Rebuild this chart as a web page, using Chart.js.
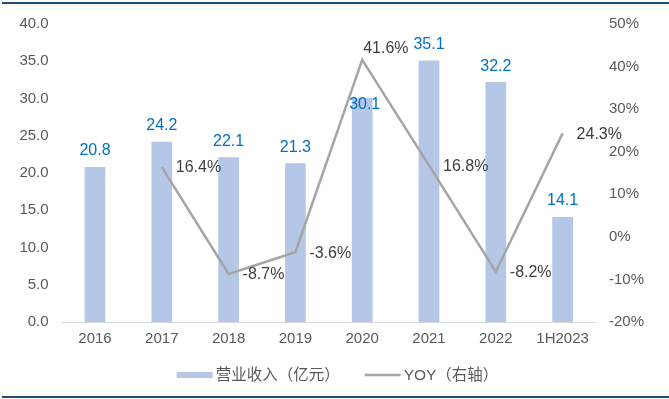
<!DOCTYPE html>
<html><head><meta charset="utf-8">
<script src="https://cdn.jsdelivr.net/npm/chart.js@4"></script>
<style>
html,body{margin:0;padding:0;background:#fff;}
#wrap{position:relative;width:669px;height:399px;overflow:hidden;}
canvas{position:absolute;left:0;top:0;}
.rule{position:absolute;left:2px;right:0;height:2px;background:#1F4E79;}
</style></head><body>
<div id="wrap"><canvas id="c" width="669" height="399"></canvas>
<div class="rule" style="top:2px"></div><div class="rule" style="top:396px"></div></div>
<script>
const categories = ['2016','2017','2018','2019','2020','2021','2022','1H2023'];
const revenue = [20.8, 24.2, 22.1, 21.3, 30.1, 35.1, 32.2, 14.1];
const yoy = [null, 16.4, -8.7, -3.6, 41.6, 16.8, -8.2, 24.3];
const leftTickLabels = ['0.0','5.0','10.0','15.0','20.0','25.0','30.0','35.0','40.0'];
const rightTickLabels = ['-20%','-10%','0%','10%','20%','30%','40%','50%'];
const seriesNames = ['营业收入（亿元）', 'YOY（右轴）'];

// label placement tweaks (style, not data)
const barLabelShift = {4: {dx: 2.5, dy: 23}};
const yoyLabelShift = {4: {dx: 1, dy: -11}};

const FONT = '"Liberation Sans", Arial, "Noto Sans CJK SC", sans-serif';

const labelPlugin = {
  id: 'vals',
  afterDatasetsDraw(chart) {
    const ctx = chart.ctx;
    ctx.save();
    ctx.font = '16px ' + FONT;
    ctx.textBaseline = 'middle';
    chart.getDatasetMeta(0).data.forEach((el, i) => {
      const s = barLabelShift[i] || {dx: 0, dy: 0};
      ctx.fillStyle = '#0070C0';
      ctx.textAlign = 'center';
      ctx.fillText(revenue[i].toFixed(1), el.x + s.dx, el.y - 16 + s.dy);
    });
    chart.getDatasetMeta(1).data.forEach((el, i) => {
      if (yoy[i] == null) return;
      const s = yoyLabelShift[i] || {dx: 14, dy: 1};
      ctx.fillStyle = '#404040';
      ctx.textAlign = 'left';
      ctx.fillText(yoy[i].toFixed(1) + '%', el.x + s.dx, el.y + s.dy);
    });
    ctx.restore();
  }
};

const legendPlugin = {
  id: 'customLegend',
  afterDraw(chart) {
    const ctx = chart.ctx;
    const ds = chart.data.datasets;
    ctx.save();
    ctx.font = '15.5px ' + FONT;
    ctx.textBaseline = 'middle';
    ctx.textAlign = 'left';
    const sw = 36, g1 = 3, g2 = 25;
    const w0 = ctx.measureText(ds[0].label).width;
    const w1 = ctx.measureText(ds[1].label).width;
    const total = sw + g1 + w0 + g2 + sw + g1 + w1;
    let x = chart.width / 2 + 3 - total / 2;
    const y = 375;
    ctx.fillStyle = ds[0].backgroundColor;
    ctx.fillRect(x, y - 3, sw, 6);
    x += sw + g1;
    ctx.fillStyle = '#595959';
    ctx.fillText(ds[0].label, x, y + 1);
    x += w0 + g2;
    ctx.strokeStyle = ds[1].borderColor;
    ctx.lineWidth = 2.5;
    ctx.beginPath(); ctx.moveTo(x, y); ctx.lineTo(x + sw, y); ctx.stroke();
    x += sw + g1;
    ctx.fillStyle = '#595959';
    ctx.fillText(ds[1].label, x, y + 1);
    ctx.restore();
  }
};

new Chart(document.getElementById('c'), {
  type: 'bar',
  data: {
    labels: categories,
    datasets: [
      {
        type: 'bar', label: seriesNames[0], data: revenue, yAxisID: 'y',
        backgroundColor: '#B4C7E7', borderWidth: 0,
        barPercentage: 0.31, categoryPercentage: 1.0, order: 1
      },
      {
        type: 'line', label: seriesNames[1], data: yoy, yAxisID: 'y1',
        borderColor: '#A5A5A5', backgroundColor: '#A5A5A5', borderWidth: 2.5,
        pointRadius: 0, tension: 0, spanGaps: false, order: 0
      }
    ]
  },
  options: {
    responsive: false, animation: false,
    layout: {padding: {top: 24, bottom: 41, left: 0, right: 0}},
    plugins: {
      tooltip: {enabled: false},
      legend: {display: false}
    },
    scales: {
      x: {
        grid: {display: false, drawTicks: false},
        border: {display: true, color: '#D9D9D9', width: 1},
        ticks: {color: '#595959', font: {family: FONT, size: 15}, padding: 8, maxRotation: 0},
        afterFit: s => { s.height = 36; }
      },
      y: {
        position: 'left', min: 0, max: 40,
        grid: {display: false, drawTicks: false},
        border: {display: false},
        ticks: {stepSize: 5, color: '#595959', font: {family: FONT, size: 15}, padding: 13,
          callback: (v, i) => leftTickLabels[i]},
        afterFit: s => { s.width = 61.6; }
      },
      y1: {
        position: 'right', min: -20, max: 50,
        grid: {display: false, drawTicks: false},
        border: {display: false},
        ticks: {stepSize: 10, color: '#595959', font: {family: FONT, size: 15}, padding: 13,
          callback: (v, i) => rightTickLabels[i]},
        afterFit: s => { s.width = 73; }
      }
    }
  },
  plugins: [labelPlugin, legendPlugin]
});
</script>
</body></html>
